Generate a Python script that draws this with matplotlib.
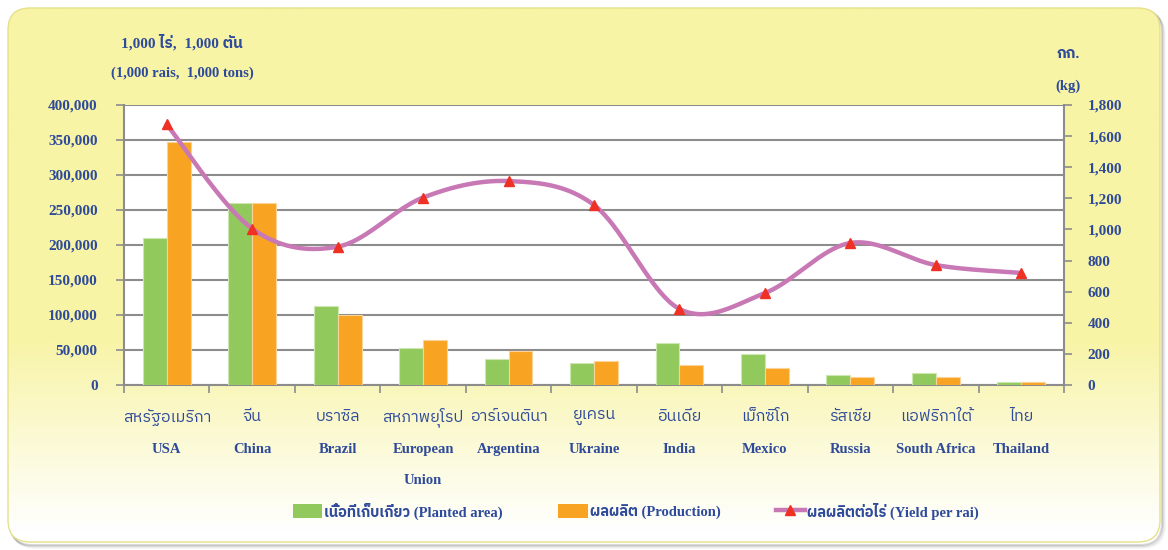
import numpy as np
import matplotlib
matplotlib.use('Agg')
import matplotlib.pyplot as plt
from matplotlib import font_manager, ft2font
from matplotlib.patches import FancyBboxPatch, Patch
from matplotlib.lines import Line2D
from matplotlib.ticker import FuncFormatter

# --- data (1,000 rai / 1,000 tons / kg per rai) ---
thai_names = ['สหรัฐอเมริกา', 'จีน', 'บราซิล', 'สหภาพยุโรป', 'อาร์เจนตินา', 'ยูเครน',
              'อินเดีย', 'เม็กซิโก', 'รัสเซีย', 'แอฟริกาใต้', 'ไทย']
eng_names = ['USA', 'China', 'Brazil', 'European\nUnion', 'Argentina', 'Ukraine',
             'India', 'Mexico', 'Russia', 'South Africa', 'Thailand']
planted = [210000, 260000, 113000, 53000, 37000, 31000, 60000, 44000, 14500, 17000, 4500]
production = [347000, 260000, 100000, 64000, 49000, 34000, 28000, 24000, 11500, 12000, 4500]
yield_rai = [1675, 1005, 889, 1205, 1311, 1157, 489, 591, 913, 771, 720]

left_ticks = np.arange(0, 400001, 50000)
right_ticks = np.arange(0, 1801, 200)

# --- fonts: find something that has Thai glyphs ---
thai_font = None
for f in font_manager.fontManager.ttflist:
    try:
        if 0x0E2A in ft2font.FT2Font(f.fname).get_charmap():
            thai_font = f.name
            if 'Thai' in f.name:
                break
    except Exception:
        pass
FAM = ['Liberation Serif'] + ([thai_font] if thai_font else []) + ['DejaVu Sans']
plt.rcParams['font.family'] = FAM
TXT = '#2E4A9A'
GRID = '#8C8C8C'
GREEN = '#92C95C'
ORANGE = '#F8A422'
PINK = '#C878B4'
RED = '#EE3124'

W, H = 1168, 550
fig = plt.figure(figsize=(W / 100, H / 100), dpi=100)

# --- yellow rounded panel with gradient ---
bg = fig.add_axes([0, 0, 1, 1], zorder=-10)
bg.set_xlim(0, W); bg.set_ylim(H, 0); bg.axis('off')
yy = np.linspace(0, 1, 400)[:, None]
fade = np.clip((yy - 0.62) / 0.36, 0, 1)
top = np.array(matplotlib.colors.to_rgb('#F8F4A6'))
grad = top * (1 - fade[..., None]) + np.ones(3) * fade[..., None]
grad = np.repeat(grad, 2, axis=1)
for k, a in enumerate([0.14, 0.09, 0.05, 0.025]):
    bg.add_patch(FancyBboxPatch((10 + k, 10 + k), 1152, 535, boxstyle='round,pad=0,rounding_size=22',
                                fc='none', ec='black', lw=1.5, alpha=a))
panel = FancyBboxPatch((8, 8), 1152, 534, boxstyle='round,pad=0,rounding_size=22',
                       fc='none', ec='none')
bg.add_patch(panel)
im = bg.imshow(grad, extent=[8, 1160, 542, 8], aspect='auto', zorder=1)
im.set_clip_path(panel)
bg.add_patch(FancyBboxPatch((8, 8), 1152, 534, boxstyle='round,pad=0,rounding_size=22',
                            fc='none', ec='#E6E08A', lw=1.0, zorder=2))

# --- main axes ---
ax = fig.add_axes([124 / W, 1 - 385 / H, 940 / W, 280 / H])
ax.set_facecolor('white')
x = np.arange(len(eng_names))
bw = 0.28
ax.bar(x - bw / 2, planted, bw, color=GREEN, edgecolor='#CDE7B0', linewidth=0.8, zorder=3)
ax.bar(x + bw / 2, production, bw, color=ORANGE, edgecolor='#FBD39A', linewidth=0.8, zorder=3)
ax.set_xlim(-0.5, len(x) - 0.5)
ax.set_ylim(0, 400000)
ax.set_yticks(left_ticks)
ax.yaxis.set_major_formatter(FuncFormatter(lambda v, p: f'{int(v):,}'))
ax.grid(axis='y', color=GRID, linewidth=1.5, zorder=0)
ax.set_axisbelow(True)
ax.set_xticks(np.arange(-0.5, len(x), 1))
ax.set_xticklabels([])
for s in ax.spines.values():
    s.set_color(GRID); s.set_linewidth(1.5)
ax.spines['top'].set_visible(False)
ax.tick_params(axis='y', colors=GRID, length=6, width=1.2, pad=13, labelcolor=TXT, labelsize=11)
ax.tick_params(axis='x', colors=GRID, length=6, width=1.2)
for lab in ax.get_yticklabels():
    lab.set_fontweight('bold')

# --- yield line (smoothed like the spreadsheet chart) ---
ax2 = ax.twinx()
ax2.set_ylim(0, 1800)
ax2.set_yticks(right_ticks)
ax2.yaxis.set_major_formatter(FuncFormatter(lambda v, p: f'{int(v):,}'))
ax2.tick_params(axis='y', colors=GRID, length=6, width=1.2, pad=11, labelcolor=TXT, labelsize=11)
for lab in ax2.get_yticklabels():
    lab.set_fontweight('bold')
for s in ax2.spines.values():
    s.set_visible(False)


def smooth(xs, ys, n=40):
    sx, sy = 940 / len(xs), 280 / 1800
    P = np.column_stack([np.asarray(xs, float) * sx, np.asarray(ys, float) * sy])
    E = np.vstack([P[0], P, P[-1]])
    t = np.linspace(0, 1, n)[:, None]
    parts = []
    for i in range(len(P) - 1):
        p0, p1, p2, p3 = E[i], E[i + 1], E[i + 2], E[i + 3]
        c1 = p1 + (p2 - p0) / 6
        c2 = p2 - (p3 - p1) / 6
        b = (1 - t) ** 3 * p1 + 3 * (1 - t) ** 2 * t * c1 + 3 * (1 - t) * t ** 2 * c2 + t ** 3 * p2
        parts.append(b if i == 0 else b[1:])
    out = np.vstack(parts)
    return out[:, 0] / sx, out[:, 1] / sy


cx, cy = smooth(x, yield_rai)
ax2.plot(cx, cy, color=PINK, linewidth=3.2, zorder=4, solid_capstyle='round')
ax2.plot(x, yield_rai, linestyle='none', marker='^', markersize=7, color=RED, zorder=5)

# --- category labels ---
tr = ax.get_xaxis_transform()
for i in x:
    ax.text(i, -0.115, thai_names[i], transform=tr, ha='center', va='center',
            color=TXT, fontsize=11.5)
    for j, line in enumerate(eng_names[i].split('\n')):
        ax.text(i, -0.229 - j * 0.111, line, transform=tr, ha='center', va='center',
                color=TXT, fontsize=10.5, fontweight='bold')

# --- axis titles ---
fig.text(182 / W, 1 - 42 / H, '1,000 ไร่,  1,000 ตัน', ha='center', va='center',
         color=TXT, fontsize=11, fontweight='bold')
fig.text(182 / W, 1 - 73 / H, '(1,000 rais,  1,000 tons)', ha='center', va='center',
         color=TXT, fontsize=10.5, fontweight='bold')
fig.text(1068 / W, 1 - 54 / H, 'กก.', ha='center', va='center', color=TXT, fontsize=11,
         fontweight='bold')
fig.text(1068 / W, 1 - 86 / H, '(kg)', ha='center', va='center', color=TXT, fontsize=10.5,
         fontweight='bold')

# --- legend ---
handles = [Patch(facecolor=GREEN, edgecolor='none'),
           Patch(facecolor=ORANGE, edgecolor='none'),
           Line2D([], [], color=PINK, linewidth=3.2, marker='^', markersize=7,
                  markerfacecolor=RED, markeredgecolor=RED)]
labels = ['เนื้อที่เก็บเกี่ยว (Planted area)', 'ผลผลิต (Production)', 'ผลผลิตต่อไร่ (Yield per rai)']
leg = fig.legend(handles, labels, loc='center', bbox_to_anchor=(636 / W, 1 - 511 / H), ncol=3,
                 frameon=False, handlelength=2.0, handleheight=1.1, handletextpad=0.15,
                 columnspacing=3.8, prop={'size': 10.5, 'weight': 'bold', 'family': FAM})
for t in leg.get_texts():
    t.set_color(TXT)

fig.savefig('out.png', dpi=100)
